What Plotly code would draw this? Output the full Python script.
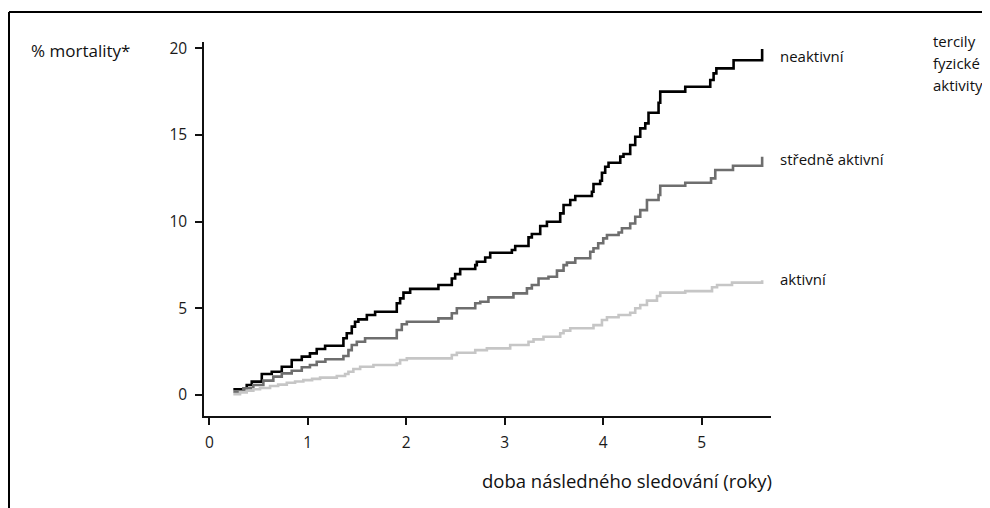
import plotly.graph_objects as go

# ---- data ----
t_inactive = [0.244, 0.380, 0.431, 0.533, 0.634, 0.736, 0.837, 0.939, 1.022, 1.091, 1.176,
              1.362, 1.396, 1.447, 1.480, 1.514, 1.600, 1.684, 1.904, 1.938, 1.972, 2.040,
              2.327, 2.463, 2.497, 2.548, 2.701, 2.717, 2.802, 2.853, 3.073, 3.107, 3.242,
              3.276, 3.361, 3.429, 3.564, 3.598, 3.666, 3.717, 3.886, 3.902, 3.970, 3.988,
              4.021, 4.055, 4.174, 4.207, 4.275, 4.326, 4.377, 4.428, 4.461, 4.563, 4.580,
              4.834, 5.088, 5.122, 5.150, 5.325, 5.615]
m_inactive = [0.33, 0.58, 0.77, 1.21, 1.34, 1.63, 2.02, 2.21, 2.40, 2.65, 2.84,
              3.27, 3.56, 3.94, 4.22, 4.36, 4.61, 4.80, 5.29, 5.57, 5.90, 6.12,
              6.34, 6.72, 6.97, 7.26, 7.49, 7.68, 7.93, 8.20, 8.36, 8.59, 9.09,
              9.28, 9.74, 9.99, 10.47, 10.95, 11.24, 11.47, 11.72, 12.16, 12.35, 12.81,
              13.16, 13.39, 13.74, 13.89, 14.41, 14.89, 15.37, 15.66, 16.27, 16.85, 17.49,
              17.77, 18.16, 18.54, 18.83, 19.30, 19.94]

t_moderate = [0.244, 0.346, 0.447, 0.549, 0.650, 0.736, 0.837, 0.939, 1.022, 1.091, 1.179,
              1.362, 1.413, 1.447, 1.498, 1.582, 1.904, 1.955, 2.006, 2.327, 2.463, 2.514,
              2.701, 2.752, 2.835, 3.089, 3.226, 3.276, 3.344, 3.445, 3.531, 3.598, 3.632,
              3.717, 3.869, 3.902, 3.950, 4.001, 4.039, 4.157, 4.191, 4.275, 4.326, 4.377,
              4.445, 4.563, 4.580, 4.834, 5.096, 5.139, 5.319, 5.615]
m_moderate = [0.19, 0.38, 0.58, 0.83, 1.06, 1.25, 1.40, 1.60, 1.73, 1.92, 2.06,
              2.25, 2.59, 2.88, 3.07, 3.27, 3.75, 4.08, 4.22, 4.42, 4.71, 5.00,
              5.29, 5.38, 5.63, 5.86, 6.15, 6.34, 6.72, 6.82, 7.17, 7.49, 7.63,
              7.88, 8.26, 8.46, 8.75, 9.03, 9.22, 9.37, 9.61, 9.89, 10.28, 10.66,
              11.24, 11.53, 12.06, 12.24, 12.49, 12.97, 13.22, 13.73]

t_active = [0.244, 0.312, 0.380, 0.447, 0.515, 0.617, 0.699, 0.787, 0.871, 0.955, 1.044,
            1.125, 1.295, 1.379, 1.413, 1.463, 1.532, 1.667, 1.904, 1.938, 2.006, 2.463,
            2.514, 2.701, 2.819, 3.056, 3.242, 3.293, 3.394, 3.564, 3.598, 3.666, 3.902,
            3.988, 4.039, 4.157, 4.275, 4.326, 4.377, 4.445, 4.547, 4.580, 4.834, 5.106,
            5.157, 5.309, 5.615]
m_active = [0.05, 0.15, 0.25, 0.33, 0.40, 0.52, 0.60, 0.71, 0.78, 0.86, 0.93,
            1.00, 1.10, 1.21, 1.34, 1.50, 1.63, 1.73, 1.82, 2.02, 2.11, 2.31,
            2.44, 2.59, 2.69, 2.88, 3.07, 3.21, 3.36, 3.56, 3.71, 3.85, 4.03,
            4.32, 4.48, 4.61, 4.74, 5.00, 5.19, 5.44, 5.71, 5.90, 5.99, 6.21,
            6.34, 6.48, 6.62]

series_names = ["neaktivní", "středně aktivní", "aktivní"]
x_ticks = [0, 1, 2, 3, 4, 5]
y_ticks = [0, 5, 10, 15, 20]

FONT = "Open Sans"

# page is offset by the default 8px body margin
OFF = 8
PAGE_W, PAGE_H = 990, 508
W, H = PAGE_W - OFF, PAGE_H - OFF
# plot area in page pixels
L, R, T, B = 204, 771, 42, 416


def px(x):
    return (x - L) / (R - L)


def py(y):
    return (B - y) / (B - T)


fig = go.Figure()
colors = ["#000000", "#6e6e6e", "#c6c6c6"]
for t, m, name, c in zip([t_inactive, t_moderate, t_active],
                         [m_inactive, m_moderate, m_active], series_names, colors):
    fig.add_trace(go.Scatter(x=t, y=m, mode="lines", name=name,
                             line=dict(shape="hv", color=c, width=2.6),
                             showlegend=False))

fig.update_layout(
    width=W, height=H,
    margin=dict(l=L - OFF, r=PAGE_W - R, t=T - OFF, b=PAGE_H - B, pad=0),
    paper_bgcolor="white", plot_bgcolor="white",
    font=dict(family=FONT, size=15, color="#111"),
)
axis_style = dict(showgrid=False, zeroline=False, showline=True, linecolor="#111", linewidth=1.5,
                  ticks="outside", ticklen=7, tickwidth=1.5, tickcolor="#111",
                  tickfont=dict(family=FONT, size=15.5, color="#1a1a1a"))
fig.update_xaxes(range=[-0.054, 5.705], tickvals=x_ticks, ticktext=[str(v) for v in x_ticks],
                 ticklabelstandoff=5, **axis_style)
fig.update_yaxes(range=[-1.21, 20.35], tickvals=y_ticks, ticktext=[str(v) for v in y_ticks],
                 ticklabelstandoff=5, **axis_style)

# frame (top and left lines)
fig.add_shape(type="line", xref="paper", yref="paper", x0=px(9), y0=py(12), x1=px(1000), y1=py(12),
              line=dict(color="black", width=2))
fig.add_shape(type="line", xref="paper", yref="paper", x0=px(9), y0=py(12), x1=px(9), y1=py(520),
              line=dict(color="black", width=2))

ann = dict(xref="paper", yref="paper", showarrow=False)
fig.add_annotation(text="% mortality*", x=px(29), y=py(51), xanchor="left", yanchor="middle",
                   font=dict(family=FONT, size=17, color="#111"), **ann)
label_y = [56, 159, 279]
for name, yy in zip(series_names, label_y):
    fig.add_annotation(text=name, x=px(778), y=py(yy), xanchor="left", yanchor="middle",
                       font=dict(family=FONT, size=15, color="#111"), **ann)
for line, yy in zip(["tercily", "fyzické", "aktivity"], [41, 63, 85]):
    fig.add_annotation(text=line, x=px(931), y=py(yy), xanchor="left", yanchor="middle",
                       font=dict(family=FONT, size=15, color="#111"), **ann)
fig.add_annotation(text="doba následného sledování (roky)", x=px(774), y=py(480),
                   xanchor="right", yanchor="middle",
                   font=dict(family=FONT, size=18.5, color="#111"), **ann)

fig.write_html("out.html")
